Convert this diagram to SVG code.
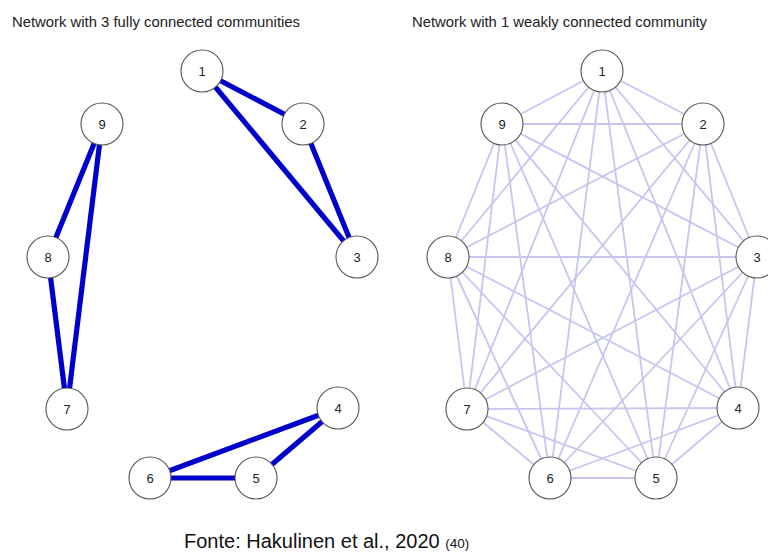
<svg xmlns="http://www.w3.org/2000/svg" width="768" height="557" viewBox="0 0 768 557">
  <style>
    .title { font-family: "Liberation Sans", Arial, sans-serif; font-size: 14.5px; fill: #222; }
    .node circle { fill: #fff; stroke: #555; stroke-width: 1.1; }
    .node text { font-family: "Liberation Sans", Arial, sans-serif; font-size: 13px; fill: #222; text-anchor: middle; dominant-baseline: central; }
    .strong line { stroke: #0000cc; stroke-width: 5.2; stroke-linecap: butt; }
    .weak line { stroke: #c6c6f0; stroke-width: 1.8; }
    .caption { font-family: "Liberation Sans", Arial, sans-serif; fill: #111; }
  </style>
  <rect width="768" height="557" fill="#fff"/>

  <text class="title" x="12" y="27" textLength="288" lengthAdjust="spacingAndGlyphs">Network with 3 fully connected communities</text>
  <text class="title" x="412" y="27" textLength="295" lengthAdjust="spacingAndGlyphs">Network with 1 weakly connected community</text>

  <!-- Left graph: three triangles -->
  <g id="edges-left" class="strong">
    <line x1="202" y1="71" x2="303" y2="124"/>
    <line x1="202" y1="71" x2="357" y2="257"/>
    <line x1="303" y1="124" x2="357" y2="257"/>
    <line x1="102" y1="124" x2="48" y2="257"/>
    <line x1="102" y1="124" x2="67" y2="409"/>
    <line x1="48" y1="257" x2="67" y2="409"/>
    <line x1="338" y1="408" x2="256" y2="478"/>
    <line x1="338" y1="408" x2="150" y2="478"/>
    <line x1="256" y1="478" x2="150" y2="478"/>
  </g>

  <g id="L1" class="node"><circle cx="202" cy="71" r="21"/><text x="202" y="71">1</text></g>
  <g id="L2" class="node"><circle cx="303" cy="124" r="21"/><text x="303" y="124">2</text></g>
  <g id="L3" class="node"><circle cx="357" cy="257" r="21"/><text x="357" y="257">3</text></g>
  <g id="L4" class="node"><circle cx="338" cy="408" r="21"/><text x="338" y="408">4</text></g>
  <g id="L5" class="node"><circle cx="256" cy="478" r="21"/><text x="256" y="478">5</text></g>
  <g id="L6" class="node"><circle cx="150" cy="478" r="21"/><text x="150" y="478">6</text></g>
  <g id="L7" class="node"><circle cx="67" cy="409" r="21"/><text x="67" y="409">7</text></g>
  <g id="L8" class="node"><circle cx="48" cy="257" r="21"/><text x="48" y="257">8</text></g>
  <g id="L9" class="node"><circle cx="102" cy="124" r="21"/><text x="102" y="124">9</text></g>

  <!-- Right graph: complete graph on nine nodes -->
  <g id="edges-right" class="weak">
    <line x1="602" y1="71" x2="703" y2="124"/>
    <line x1="602" y1="71" x2="757" y2="257"/>
    <line x1="602" y1="71" x2="738" y2="408"/>
    <line x1="602" y1="71" x2="656" y2="478"/>
    <line x1="602" y1="71" x2="550" y2="478"/>
    <line x1="602" y1="71" x2="467" y2="409"/>
    <line x1="602" y1="71" x2="448" y2="257"/>
    <line x1="602" y1="71" x2="502" y2="124"/>
    <line x1="703" y1="124" x2="757" y2="257"/>
    <line x1="703" y1="124" x2="738" y2="408"/>
    <line x1="703" y1="124" x2="656" y2="478"/>
    <line x1="703" y1="124" x2="550" y2="478"/>
    <line x1="703" y1="124" x2="467" y2="409"/>
    <line x1="703" y1="124" x2="448" y2="257"/>
    <line x1="703" y1="124" x2="502" y2="124"/>
    <line x1="757" y1="257" x2="738" y2="408"/>
    <line x1="757" y1="257" x2="656" y2="478"/>
    <line x1="757" y1="257" x2="550" y2="478"/>
    <line x1="757" y1="257" x2="467" y2="409"/>
    <line x1="757" y1="257" x2="448" y2="257"/>
    <line x1="757" y1="257" x2="502" y2="124"/>
    <line x1="738" y1="408" x2="656" y2="478"/>
    <line x1="738" y1="408" x2="550" y2="478"/>
    <line x1="738" y1="408" x2="467" y2="409"/>
    <line x1="738" y1="408" x2="448" y2="257"/>
    <line x1="738" y1="408" x2="502" y2="124"/>
    <line x1="656" y1="478" x2="550" y2="478"/>
    <line x1="656" y1="478" x2="467" y2="409"/>
    <line x1="656" y1="478" x2="448" y2="257"/>
    <line x1="656" y1="478" x2="502" y2="124"/>
    <line x1="550" y1="478" x2="467" y2="409"/>
    <line x1="550" y1="478" x2="448" y2="257"/>
    <line x1="550" y1="478" x2="502" y2="124"/>
    <line x1="467" y1="409" x2="448" y2="257"/>
    <line x1="467" y1="409" x2="502" y2="124"/>
    <line x1="448" y1="257" x2="502" y2="124"/>
  </g>

  <g id="R1" class="node"><circle cx="602" cy="71" r="21"/><text x="602" y="71">1</text></g>
  <g id="R2" class="node"><circle cx="703" cy="124" r="21"/><text x="703" y="124">2</text></g>
  <g id="R3" class="node"><circle cx="757" cy="257" r="21"/><text x="757" y="257">3</text></g>
  <g id="R4" class="node"><circle cx="738" cy="408" r="21"/><text x="738" y="408">4</text></g>
  <g id="R5" class="node"><circle cx="656" cy="478" r="21"/><text x="656" y="478">5</text></g>
  <g id="R6" class="node"><circle cx="550" cy="478" r="21"/><text x="550" y="478">6</text></g>
  <g id="R7" class="node"><circle cx="467" cy="409" r="21"/><text x="467" y="409">7</text></g>
  <g id="R8" class="node"><circle cx="448" cy="257" r="21"/><text x="448" y="257">8</text></g>
  <g id="R9" class="node"><circle cx="502" cy="124" r="21"/><text x="502" y="124">9</text></g>

  <text class="caption" x="184" y="548" font-size="20">Fonte: Hakulinen et al., 2020 <tspan font-size="13.5">(40)</tspan></text>
</svg>
